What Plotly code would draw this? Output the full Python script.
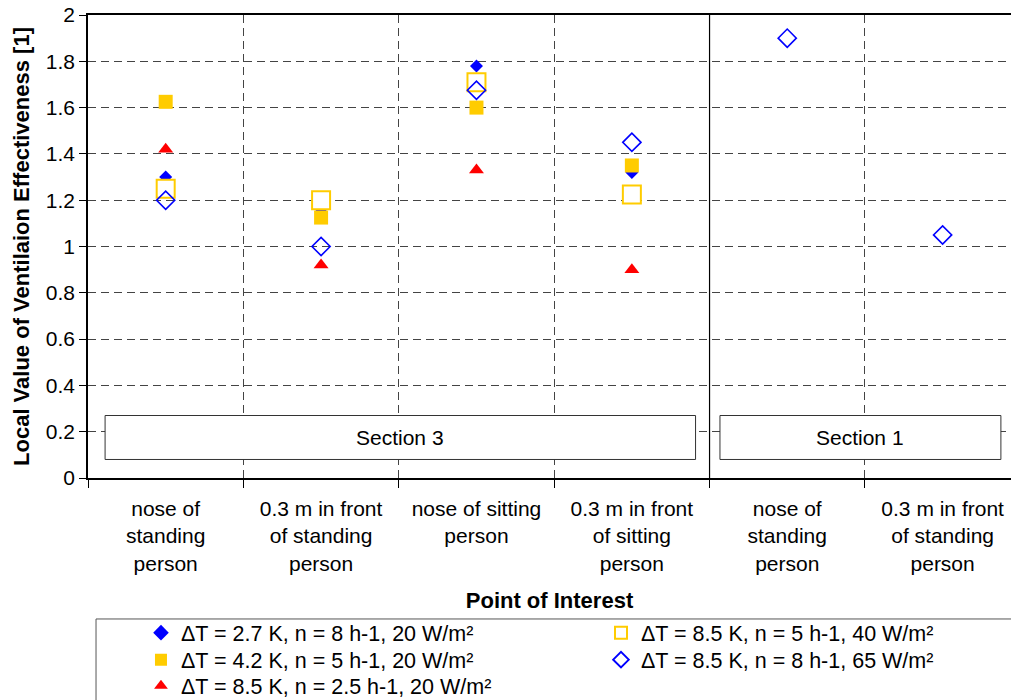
import plotly.graph_objects as go

# Points of interest (category positions 1..6)
categories = [
    "nose of<br>standing<br>person",
    "0.3 m in front<br>of standing<br>person",
    "nose of sitting<br>person",
    "0.3 m in front<br>of sitting<br>person",
    "nose of<br>standing<br>person",
    "0.3 m in front<br>of standing<br>person",
]
positions = [1, 2, 3, 4, 5, 6]

# Local ventilation effectiveness for each case (None = not measured)
dt27_n8_20 = [1.30, 1.15, 1.78, 1.32, None, None]
dt42_n5_20 = [1.625, 1.125, 1.60, 1.35, None, None]
dt85_n25_20 = [1.42, 0.92, 1.33, 0.90, None, None]
dt85_n5_40 = [1.25, 1.20, 1.71, 1.225, None, None]
dt85_n8_65 = [1.20, 1.00, 1.675, 1.45, 1.90, 1.05]

y_ticks = [0, 0.2, 0.4, 0.6, 0.8, 1, 1.2, 1.4, 1.6, 1.8, 2]
y_tick_text = ["0", "0.2", "0.4", "0.6", "0.8", "1", "1.2", "1.4", "1.6", "1.8", "2"]

FONT = "Arial, Liberation Sans, sans-serif"
FS = 21
BLUE = "#0000FF"
GOLD = "#FFCC00"
RED = "#FF0000"
GRID_DASH = "8px,5px"

fig = go.Figure()

# Each series gets its own legend box so the two-column legend rows can be placed freely
fig.add_trace(go.Scatter(
    x=positions, y=dt27_n8_20, mode="markers", name="ΔT = 2.7 K, n = 8 h-1, 20 W/m²",
    marker=dict(symbol="diamond", size=10, color=BLUE, line=dict(width=0)),
    legend="legend",
))
fig.add_trace(go.Scatter(
    x=positions, y=dt42_n5_20, mode="markers", name="ΔT = 4.2 K, n = 5 h-1, 20 W/m²",
    marker=dict(symbol="square", size=14, color=GOLD, line=dict(width=0)),
    legend="legend2",
))
fig.add_trace(go.Scatter(
    x=positions, y=dt85_n25_20, mode="markers", name="ΔT = 8.5 K, n = 2.5 h-1, 20 W/m²",
    marker=dict(symbol="triangle-up", size=13, color=RED, line=dict(width=0)),
    legend="legend3",
))
fig.add_trace(go.Scatter(
    x=positions, y=dt85_n5_40, mode="markers", name="ΔT = 8.5 K, n = 5 h-1, 40 W/m²",
    marker=dict(symbol="square", size=18, color="white", line=dict(width=2, color=GOLD)),
    legend="legend4",
))
fig.add_trace(go.Scatter(
    x=positions, y=dt85_n8_65, mode="markers", name="ΔT = 8.5 K, n = 8 h-1, 65 W/m²",
    marker=dict(symbol="diamond-open", size=14, color=BLUE, line=dict(width=1.6, color=BLUE)),
    legend="legend5",
))

# Section label boxes
for x0, x1, label in [(0.61, 4.41, "Section 3"), (4.567, 6.375, "Section 1")]:
    fig.add_shape(type="rect", xref="x", yref="y", x0=x0, x1=x1, y0=0.08, y1=0.27,
                  line=dict(color="#333333", width=1), fillcolor="white", layer="above")
    fig.add_annotation(x=(x0 + x1) / 2, y=0.175, xref="x", yref="y", text=label,
                       showarrow=False, font=dict(family=FONT, size=FS, color="black"))

# Solid divider between sections
fig.add_shape(type="line", xref="x", yref="y", x0=4.5, x1=4.5, y0=0, y1=2,
              line=dict(color="black", width=1.2), layer="above")

# Legend frame
fig.add_shape(type="rect", xref="paper", yref="paper", x0=0.0087, x1=1.05,
              y0=-0.56, y1=-0.3045, line=dict(color="#555555", width=1), fillcolor="rgba(0,0,0,0)")


def legend_box(x, y):
    return dict(
        x=x, y=y, orientation="v", yanchor="top", xanchor="left",
        bgcolor="rgba(0,0,0,0)", borderwidth=0,
        font=dict(family=FONT, size=21.5, color="black"),
        itemsizing="constant",
    )


col1_x, col2_x = 0.0574, 0.5558
row_y = [-0.2898, -0.3481, -0.4043]

fig.update_layout(
    width=1011, height=700,
    margin=dict(l=88, r=0, t=15, b=222, autoexpand=False),
    plot_bgcolor="white", paper_bgcolor="white",
    font=dict(family=FONT, size=FS, color="black"),
    showlegend=True,
    legend=legend_box(col1_x, row_y[0]),
    legend2=legend_box(col1_x, row_y[1]),
    legend3=legend_box(col1_x, row_y[2]),
    legend4=legend_box(col2_x, row_y[0]),
    legend5=legend_box(col2_x, row_y[1]),
    xaxis=dict(
        range=[0.5, 6.44],
        tickmode="array", tickvals=positions, ticktext=categories,
        ticks="", showgrid=False, zeroline=False, ticklabelstandoff=11,
        showline=True, linecolor="black", linewidth=1.5, mirror=True,
        tickfont=dict(family=FONT, size=FS),
        minor=dict(tickmode="linear", tick0=0.5, dtick=1, ticks="outside", ticklen=8,
                   tickcolor="black", showgrid=True, gridcolor="#444444",
                   griddash=GRID_DASH, gridwidth=1),
        title=dict(text="<b>Point of Interest</b>", font=dict(family=FONT, size=22), standoff=19),
    ),
    yaxis=dict(
        range=[0, 2], tickmode="array", tickvals=y_ticks, ticktext=y_tick_text,
        ticks="outside", ticklen=7, tickcolor="black",
        showgrid=True, gridcolor="#444444", griddash=GRID_DASH, gridwidth=1,
        zeroline=False, showline=True, linecolor="black", linewidth=1.5,
        tickfont=dict(family=FONT, size=FS),
        title=dict(text="<b>Local Value of Ventilaion Effectiveness [1]</b>",
                   font=dict(family=FONT, size=22), standoff=10),
    ),
)

fig.write_html("out.html")
